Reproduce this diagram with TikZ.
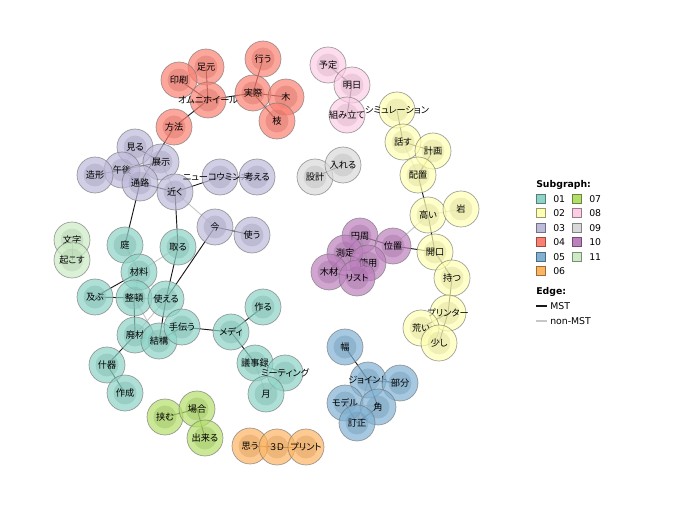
\documentclass[tikz,border=0pt]{standalone}
\usepackage{fontspec}
\setmainfont{DejaVu Sans}
\newfontfamily\jp[RawFeature=+palt]{Noto Sans CJK JP}
\usetikzlibrary{backgrounds}
\definecolor{c01}{HTML}{8DD3C7}
\definecolor{c02}{HTML}{FFFFB3}
\definecolor{c03}{HTML}{BEBADA}
\definecolor{c04}{HTML}{FB8072}
\definecolor{c05}{HTML}{80B1D3}
\definecolor{c06}{HTML}{FDB462}
\definecolor{c07}{HTML}{B3DE69}
\definecolor{c08}{HTML}{FCCDE5}
\definecolor{c09}{HTML}{D9D9D9}
\definecolor{c10}{HTML}{BC80BD}
\definecolor{c11}{HTML}{CCEBC5}
\newcommand\zw[1]{\makebox[0pt]{#1}}
\tikzset{
  kw/.style={circle, minimum size=27pt, inner sep=0pt, draw=black!55, line width=0.5pt,
    draw opacity=0.7, fill=#1, fill opacity=0.7, text opacity=1,
    font=\jp\fontsize{6.9}{7}\selectfont,
    path picture={\fill[#1!85!black, fill opacity=0.4] (path picture bounding box.center) circle (8.6pt);}},
  mst/.style={draw=black!90, line width=0.7pt},
  nonmst/.style={draw=black!22, line width=0.7pt},
  legbox/.style={draw=#1!60!black, fill=#1, minimum size=6.5pt, inner sep=0pt, line width=0.5pt},
  legtext/.style={anchor=west, inner sep=0pt, font=\fontsize{7}{8}\selectfont},
}
\begin{document}
\begin{tikzpicture}[x=0.75pt, y=-0.75pt]
\useasboundingbox (0,0) rectangle (680,510);
% red 04
\node[kw=c04] (gyou) at (263,59) {行う};
\node[kw=c04] (ashimoto) at (206,67) {足元};
\node[kw=c04] (insatsu) at (179,80) {印刷};
\node[kw=c04] (jissai) at (253,93) {実際};
\node[kw=c04] (ki) at (286,97) {木};
\node[kw=c04] (omni) at (208,100) {\zw{オムニホイール}};
\node[kw=c04] (eda) at (277,121) {枝};
\node[kw=c04] (houhou) at (174,127) {方法};
% lavender 03
\node[kw=c03] (miru) at (135,147) {見る};
\node[kw=c03] (tenji) at (161,162) {展示};
\node[kw=c03] (gogo) at (122,170) {午後};
\node[kw=c03] (zoukei) at (95,175) {造形};
\node[kw=c03] (tsuuro) at (140,183) {通路};
\node[kw=c03] (chikaku) at (175,192) {近く};
\node[kw=c03] (newc) at (220,177) {\zw{ニューコウミンカン}};
\node[kw=c03] (kangaeru) at (257,177) {考える};
\node[kw=c03] (ima) at (215,227) {今};
\node[kw=c03] (tsukau) at (252,235) {使う};
% teal 01
\node[kw=c01] (niwa) at (125,245) {庭};
\node[kw=c01] (toru) at (178,247) {取る};
\node[kw=c01] (zairyo) at (139,272) {材料};
\node[kw=c01] (oyobu) at (95,297) {及ぶ};
\node[kw=c01] (seiton) at (134,298) {整頓};
\node[kw=c01] (tsukaeru) at (166,299) {使える};
\node[kw=c01] (haizai) at (135,335) {廃材};
\node[kw=c01] (kekkou) at (159,341) {結構};
\node[kw=c01] (tetsudau) at (182,327) {手伝う};
\node[kw=c01] (medi) at (231,332) {メディ};
\node[kw=c01] (juuki) at (107,365) {什器};
\node[kw=c01] (sakusei) at (125,393) {作成};
\node[kw=c01] (tsukuru) at (263,307) {作る};
\node[kw=c01] (gijiroku) at (255,363) {議事録};
\node[kw=c01] (meeting) at (285,373) {\zw{ミーティング}};
\node[kw=c01] (tsuki) at (266,394) {月};
% light green 11
\node[kw=c11] (moji) at (72,240) {文字};
\node[kw=c11] (okosu) at (72,260) {起こす};
% green 07
\node[kw=c07] (hasamu) at (165,417) {挟む};
\node[kw=c07] (baai) at (197,409) {場合};
\node[kw=c07] (dekiru) at (205,438) {出来る};
% orange 06
\node[kw=c06] (omou) at (250,446) {思う};
\node[kw=c06] (sanD) at (277,447) {３Ｄ};
\node[kw=c06] (print) at (306,447) {\zw{プリント}};
% pink 08
\node[kw=c08] (yotei) at (328,65) {予定};
\node[kw=c08] (ashita) at (352,85) {明日};
\node[kw=c08] (kumitate) at (347,115) {\zw{組み立て}};
% grey 09
\node[kw=c09] (sekkei) at (315,177) {設計};
\node[kw=c09] (ireru) at (343,165) {入れる};
% yellow 02
\node[kw=c02] (simu) at (397,110) {\zw{シミュレーション}};
\node[kw=c02] (hanasu) at (403,142) {話す};
\node[kw=c02] (keikaku) at (433,151) {計画};
\node[kw=c02] (haichi) at (418,175) {配置};
\node[kw=c02] (takai) at (428,215) {高い};
\node[kw=c02] (iwa) at (461,209) {岩};
\node[kw=c02] (kaikou) at (435,252) {開口};
\node[kw=c02] (motsu) at (452,278) {持つ};
\node[kw=c02] (printer) at (448,313) {\zw{プリンター}};
\node[kw=c02] (arai) at (421,328) {荒い};
\node[kw=c02] (sukoshi) at (439,343) {少し};
% purple 10
\node[kw=c10] (enshuu) at (360,236) {円周};
\node[kw=c10] (ichi) at (393,246) {位置};
\node[kw=c10] (sokutei) at (345,253) {測定};
\node[kw=c10] (shiyou) at (368,263) {使用};
\node[kw=c10] (mokuzai) at (329,272) {木材};
\node[kw=c10] (list) at (357,278) {リスト};
% blue 05
\node[kw=c05] (haba) at (345,347) {幅};
\node[kw=c05] (joint) at (368,380) {\zw{ジョイント}};
\node[kw=c05] (bubun) at (400,383) {部分};
\node[kw=c05] (model) at (345,403) {モデル};
\node[kw=c05] (kado) at (378,407) {角};
\node[kw=c05] (teisei) at (357,423) {訂正};
% edges
\begin{scope}[on background layer]
\foreach \a/\b in {insatsu/ashimoto, ki/eda, tenji/tsuuro, tenji/chikaku, miru/gogo, chikaku/ima,
  toru/zairyo, zairyo/seiton, seiton/tsukaeru, tsukaeru/haizai, haizai/kekkou, seiton/kekkou,
  gijiroku/tsuki, meeting/tsuki, takai/iwa, ichi/takai, hanasu/haichi, sokutei/list, enshuu/shiyou,
  arai/sukoshi, model/kado, joint/teisei, niwa/zairyo}
  \draw[nonmst] (\a.center) -- (\b.center);
\foreach \a/\b in {gyou/jissai, jissai/ki, jissai/eda, omni/jissai, omni/houhou, omni/insatsu, omni/ashimoto,
  houhou/tsuuro, miru/tenji, tenji/gogo, gogo/zoukei, gogo/tsuuro, tsuuro/chikaku, chikaku/newc, newc/kangaeru,
  ima/tsukau, chikaku/toru, tsuuro/niwa, ima/tsukaeru, toru/tsukaeru, tsukaeru/kekkou, zairyo/oyobu,
  oyobu/seiton, seiton/haizai, haizai/juuki, juuki/sakusei, kekkou/tetsudau, tetsudau/medi, medi/tsukuru,
  medi/gijiroku, gijiroku/meeting, moji/okosu, hasamu/baai, baai/dekiru, omou/sanD, sanD/print,
  yotei/ashita, ashita/kumitate, sekkei/ireru, simu/hanasu, hanasu/keikaku, keikaku/haichi, haichi/takai,
  takai/kaikou, kaikou/ichi, kaikou/motsu, motsu/printer, printer/arai, printer/sukoshi,
  ichi/enshuu, enshuu/sokutei, sokutei/shiyou, sokutei/mokuzai, mokuzai/list, shiyou/list,
  haba/joint, joint/bubun, joint/kado, kado/teisei, model/teisei}
  \draw[mst] (\a.center) -- (\b.center);
\end{scope}
% legend
\node[legtext, font=\bfseries\fontsize{7}{8}\selectfont] (lgtitle) at (536,185) {Subgraph:};
\foreach \c/\y/\col in {01/199/c01, 02/213/c02, 03/228/c03, 04/242/c04, 05/257/c05, 06/271/c06} {
  \node[legbox=\col] (lb\c) at (541,\y) {};
  \node[legtext] (lt\c) at (553,\y) {\c};
}
\foreach \c/\y/\col in {07/199/c07, 08/213/c08, 09/228/c09, 10/242/c10, 11/257/c11} {
  \node[legbox=\col] (lb\c) at (577,\y) {};
  \node[legtext] (lt\c) at (589,\y) {\c};
}
\node[legtext, font=\bfseries\fontsize{7}{8}\selectfont] (lgedge) at (536,292) {Edge:};
\coordinate (m1) at (536,306); \coordinate (m2) at (547,306);
\coordinate (n1) at (536,321); \coordinate (n2) at (547,321);
\draw[mst, line width=0.9pt] (m1) -- (m2);
\draw[nonmst, line width=0.9pt] (n1) -- (n2);
\node[legtext] (lmst) at (550,306) {MST};
\node[legtext] (lnon) at (550,321) {non-MST};
\end{tikzpicture}
\end{document}
